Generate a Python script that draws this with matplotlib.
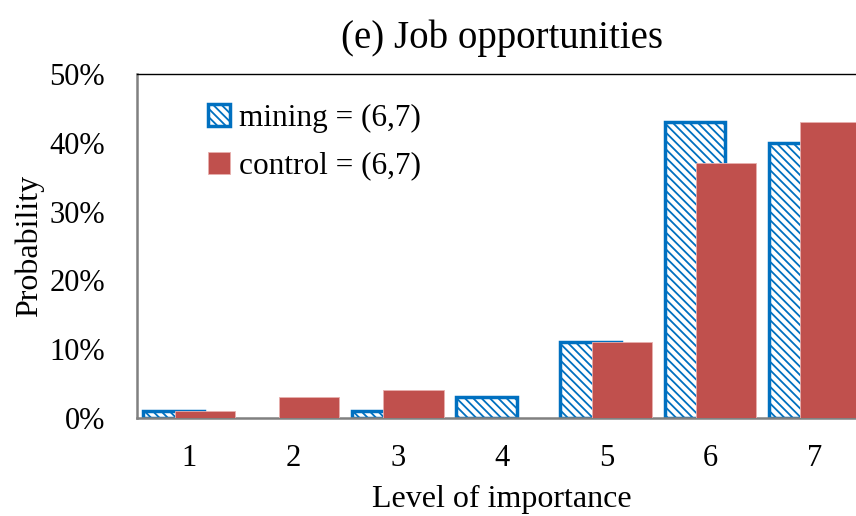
import numpy as np
import matplotlib.pyplot as plt
import matplotlib as mpl

levels = [1, 2, 3, 4, 5, 6, 7]
mining = [1, 0, 1, 3, 11, 43, 40]
control = [1, 3, 4, 0, 11, 37, 43]
yticks = [0, 10, 20, 30, 40, 50]

plt.rcParams['font.family'] = ['Liberation Serif', 'DejaVu Serif']
mpl.rcParams['hatch.color'] = '#4472C4'
mpl.rcParams['hatch.linewidth'] = 1.3

fig = plt.figure(figsize=(8.56, 5.16), dpi=100)
# axes right edge runs past the figure, as in the cropped original
ax = fig.add_axes([137 / 856, 1 - 418 / 516, 730 / 856, 344 / 516])

x = np.array(levels)
m = np.array(mining)
c = np.array(control)
w = 0.58
off = 0.15
# skip zero-height bars (no mark drawn in the original)
ax.bar(x[m > 0] - off, m[m > 0], w, facecolor='white', edgecolor='#0070C0',
       linewidth=2.5, hatch='\\\\\\\\', label='mining = (6,7)', zorder=2)
ax.bar(x[c > 0] + off, c[c > 0], w, color='#C0504D', edgecolor='#E8B0AE',
       linewidth=0.6, label='control = (6,7)', zorder=3)

ax.set_xlim(0.5, 7.5)
ax.set_ylim(0, 50)
ax.set_yticks(yticks)
ax.set_yticklabels([f'{t}%' for t in yticks])
ax.set_xticks(levels)
ax.tick_params(axis='both', labelsize=22, length=0)
ax.tick_params(axis='x', pad=19)
ax.tick_params(axis='y', pad=23)

for s in ['left', 'bottom']:
    ax.spines[s].set_color('#808080')
    ax.spines[s].set_linewidth(1.8)
ax.spines['top'].set_color('black')
ax.spines['top'].set_linewidth(1.0)
ax.spines['right'].set_visible(False)

ax.set_title('(e) Job opportunities', fontsize=28, pad=19)
ax.set_xlabel('Level of importance', fontsize=23, labelpad=8)
ax.set_ylabel('Probability', fontsize=23, labelpad=4)

leg = ax.legend(loc='upper left', bbox_to_anchor=(0.08, 0.95), frameon=False,
                fontsize=22.5, handlelength=0.7, handleheight=0.7,
                handletextpad=0.3, labelspacing=0.6, borderaxespad=0)

fig.savefig('out.png', dpi=100)
